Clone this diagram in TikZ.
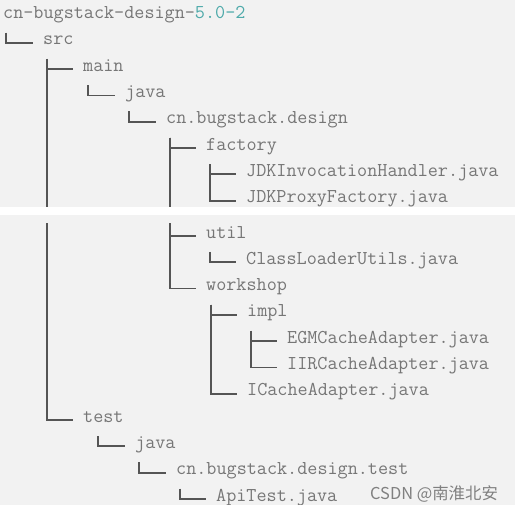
\documentclass[tikz,border=0pt]{standalone}
\usepackage{fontspec}
\newfontfamily\cjkfont{Noto Sans CJK SC}
\definecolor{bgGrey}{RGB}{242,242,242}
\definecolor{textGrey}{RGB}{118,118,118}
\definecolor{lineGrey}{RGB}{85,85,85}
\definecolor{verTeal}{RGB}{78,170,170}
\definecolor{wmGrey}{RGB}{128,128,128}
\tikzset{
  entry/.style={anchor=mid west, inner sep=0pt, yshift=-2.5pt, text=textGrey,
    font=\ttfamily\fontsize{19.6}{19.6}\selectfont},
  treeline/.style={draw=lineGrey, line width=1.8pt},
  watermark/.style={anchor=mid west, inner sep=0pt, yshift=-3pt, text=wmGrey,
    font=\cjkfont\fontsize{16.4}{16.4}\selectfont},
}
% branch from a folder down to one of its entries
\newcommand{\branch}[3][4]{\draw[treeline] ([xshift=#1pt,yshift=-16pt]#2.mid west) |- ([xshift=-10.5pt]#3.mid west);}

\begin{document}
\begin{tikzpicture}[x=1pt, y=-1pt]
        \useasboundingbox (0,0) rectangle (515,512);
        \fill[bgGrey] (0,0) rectangle (515,505);

        \node[entry] (root) at (3,14) {cn-bugstack-design-\textcolor{verTeal}{5.0-2}};
        \node[entry] (src) at (43,40.3) {src};
        \node[entry] (main) at (83,66.6) {main};
        \node[entry] (mjava) at (125,92.9) {java};
        \node[entry] (pkg) at (166,119.2) {cn.bugstack.design};
        \node[entry] (factory) at (206,145.5) {factory};
        \node[entry] (handler) at (246,171.8) {JDKInvocationHandler.java};
        \node[entry] (proxy) at (246,198.1) {JDKProxyFactory.java};
        \node[entry] (util) at (206,233.4) {util};
        \node[entry] (loader) at (246,259.7) {ClassLoaderUtils.java};
        \node[entry] (workshop) at (206,286) {workshop};
        \node[entry] (impl) at (247,312.3) {impl};
        \node[entry] (egm) at (287,338.6) {EGMCacheAdapter.java};
        \node[entry] (iir) at (287,364.9) {IIRCacheAdapter.java};
        \node[entry] (icache) at (247,391.2) {ICacheAdapter.java};
        \node[entry] (test) at (83,417.5) {test};
        \node[entry] (tjava) at (135,443.8) {java};
        \node[entry] (tpkg) at (176,470.1) {cn.bugstack.design.test};
        \node[entry] (apitest) at (216,496.4) {ApiTest.java};

        \branch[3]{root}{src}
        \branch{src}{main}
        \branch{src}{test}
        \branch[5]{main}{mjava}
        \branch{mjava}{pkg}
        \branch{pkg}{factory}
        \branch{pkg}{util}
        \branch{pkg}{workshop}
        \branch{factory}{handler}
        \branch{factory}{proxy}
        \branch{util}{loader}
        \branch[5]{workshop}{impl}
        \branch[5]{workshop}{icache}
        \branch{impl}{egm}
        \branch{impl}{iir}
        \branch[15]{test}{tjava}
        \branch{tjava}{tpkg}
        \branch{tpkg}{apitest}

        % seam between the two screenshots
        \fill[bgGrey] (0,215) rectangle (515,223);
        \fill[white] (0,207) rectangle (515,215);
        \fill[white] (0,505) rectangle (515,512);

        \node[watermark] (wm) at (370,494) {CSDN @南淮北安};
      \end{tikzpicture}
\end{document}
